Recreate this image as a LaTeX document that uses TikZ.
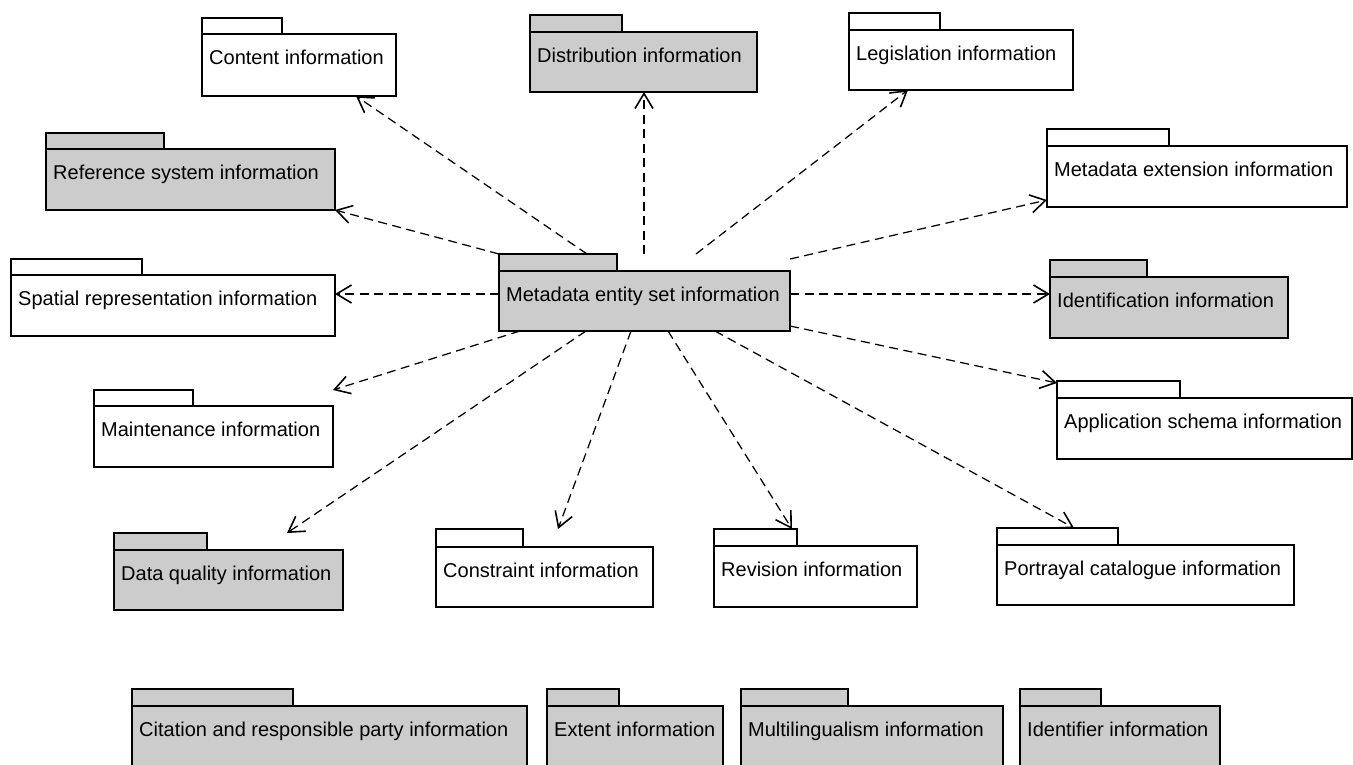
\documentclass[tikz,border=0pt]{standalone}
\usepackage{fontspec}
\setmainfont{Liberation Sans}
\usetikzlibrary{arrows.meta,fit}
\definecolor{pkggray}{RGB}{204,204,204}
\tikzset{
  x=1pt, y=-1pt,
  pkgline/.style={draw=black, line width=1.3pt},
  pkgbox/.style={inner sep=0pt, outer sep=0pt},
  pkgtext/.style={inner sep=0pt, anchor=base west, font=\fontsize{20}{24}\selectfont},
  dep/.style={draw=black, line width=1.25pt, dash pattern=on 9pt off 5.5pt,
    -{Straight Barb[length=15pt,width=18pt,line width=1.6pt]}},
}
% \umlpkg{name}{left}{tab top}{tab right}{tab bottom}{right}{bottom}{fill}{label}
\newcommand{\umlpkg}[9]{%
  \filldraw[pkgline, fill=#8] (#2,#3) rectangle (#4,#5);
  \filldraw[pkgline, fill=#8] (#2,#5) rectangle (#6,#7);
  \node[pkgbox, fit={(#2,#3) (#6,#7)}] (#1) {};
  \node[pkgtext] (#1-label) at ({#2+7},{#5+30.5}) {#9};
}
\begin{document}
\begin{tikzpicture}
\useasboundingbox (0,0) rectangle (1353,764);
\clip (0,0) rectangle (1353,764);

\umlpkg{content}{202}{18}{282}{34}{396}{96}{white}{Content information}
\umlpkg{refsys}{46}{133}{164}{149}{335}{210}{pkggray}{Reference system information}
\umlpkg{distrib}{530}{15}{622}{32}{757}{92}{pkggray}{Distribution information}
\umlpkg{meta}{499}{254}{617}{271}{790}{331}{pkggray}{Metadata entity set information}
\umlpkg{legis}{849}{13}{940}{30}{1073}{90}{white}{Legislation information}
\umlpkg{metaext}{1047}{129}{1169}{146}{1347}{207}{white}{Metadata extension information}
\umlpkg{ident}{1050}{260}{1147}{277}{1288}{338}{pkggray}{Identification information}
\umlpkg{spatial}{11}{259}{142}{275}{335}{336}{white}{Spatial representation information}
\umlpkg{maint}{94}{390}{193}{406}{333}{467}{white}{Maintenance information}
\umlpkg{appschema}{1057}{381}{1180}{398}{1352}{459}{white}{Application schema information}
\umlpkg{portrayal}{997}{528}{1118}{545}{1294}{605}{white}{Portrayal catalogue information}
\umlpkg{constraint}{436}{529}{523}{547}{653}{607}{white}{Constraint information}
\umlpkg{revision}{714}{529}{797}{546}{917}{607}{white}{Revision information}
\umlpkg{dataq}{114}{533}{207}{550}{343}{610}{pkggray}{Data quality information}

% shared packages along the bottom edge
\umlpkg{citation}{132}{689}{293}{706}{527}{790}{pkggray}{Citation and responsible party information}
\umlpkg{extent}{547}{689}{619}{706}{723}{790}{pkggray}{Extent information}
\umlpkg{multi}{741}{689}{848}{706}{1003}{790}{pkggray}{Multilingualism information}
\umlpkg{identifier}{1020}{689}{1101}{706}{1220}{790}{pkggray}{Identifier information}

% dependencies of the metadata entity set
\draw[dep] ([xshift=88pt]meta.north west) -- ([xshift=154pt]content.south west);
\draw[dep] (meta.north west) -- (refsys.south east);
\draw[dep] ([xshift=145pt]meta.north west) -- ([xshift=114pt]distrib.south west);
\draw[dep] ([xshift=197pt]meta.north west) -- ([xshift=59pt]legis.south west);
\draw[dep] ([yshift=-5pt]meta.north east) -- ([yshift=7pt]metaext.south west);
\draw[dep] ([yshift=-40pt]meta.north east) -- ([yshift=-34pt]ident.north west);
\draw[dep] ([yshift=5pt]meta.south east) -- ([yshift=-2pt]appschema.north west);
\draw[dep] ([xshift=216pt]meta.south west) -- ([xshift=77pt]portrayal.north west);
\draw[dep] ([xshift=169pt]meta.south west) -- ([xshift=78pt]revision.north west);
\draw[dep] ([xshift=132pt]meta.south west) -- ([xshift=122pt]constraint.north west);
\draw[dep] ([xshift=87pt]meta.south west) -- ([xshift=173pt]dataq.north west);
\draw[dep] ([xshift=21pt]meta.south west) -- (maint.north east);
\draw[dep] ([yshift=-40pt]meta.north west) -- ([yshift=-35pt]spatial.north east);
\end{tikzpicture}
\end{document}
